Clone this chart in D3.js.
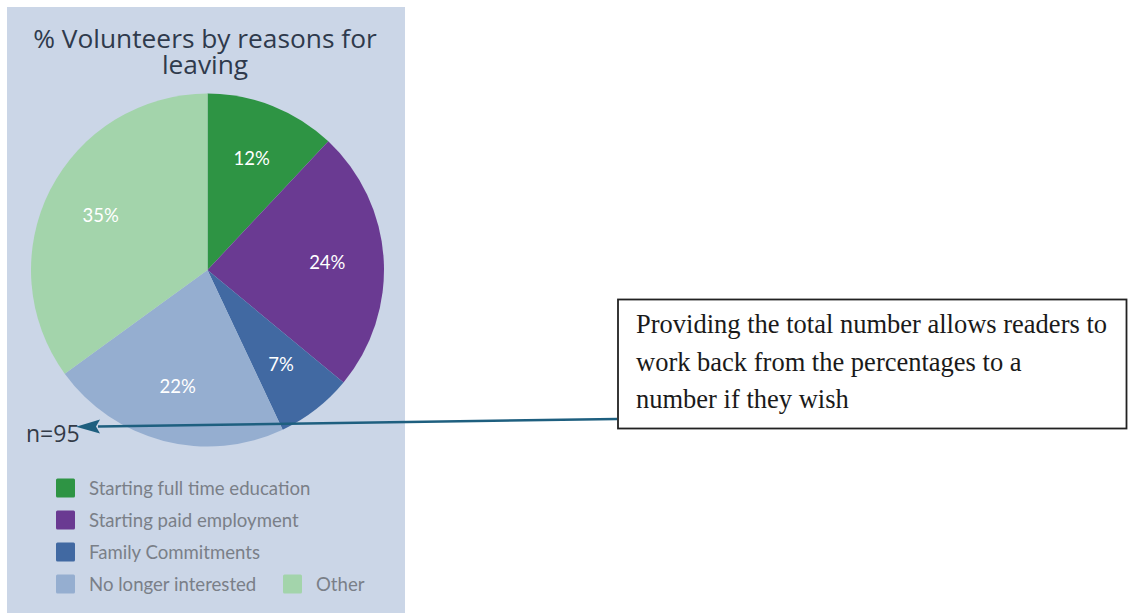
<!DOCTYPE html>
<html><head><meta charset="utf-8">
<script src="https://cdn.jsdelivr.net/npm/d3@7"></script>
<style>body{margin:0;background:#fff}svg{display:block}</style>
</head><body>
<svg id="c" width="1128" height="614"></svg>
<script>
const categories = ["Starting full time education","Starting paid employment","Family Commitments","No longer interested","Other"];
const values = [12, 24, 7, 22, 35];
const colors = ["#2e9444","#6a3a92","#4169a2","#95aed0","#a3d4ab"];
const titleLines = ["% Volunteers by reasons for","leaving"];
const nLabel = "n=95";
const noteLines = ["Providing the total number allows readers to","work back from the percentages to a","number if they wish"];

const svg = d3.select("#c");
svg.append("rect").attr("x",7).attr("y",7).attr("width",398).attr("height",606).attr("fill","#cbd6e7");

const title = svg.append("text").attr("text-anchor","middle")
  .attr("font-family","Open Sans").attr("font-size",26.3).attr("fill","#2f3a4c");
title.selectAll("tspan").data(titleLines).join("tspan")
  .attr("x",205).attr("y",(d,i)=>48+i*26).text(d=>d);

const cx=207.5, cy=270, r=176.5;
const pie = d3.pie().sort(null).value(d=>d)(values);
const arc = d3.arc().innerRadius(0).outerRadius(r);
const g = svg.append("g").attr("transform",`translate(${cx},${cy})`);
g.selectAll("path").data(pie).join("path").attr("d",arc).attr("fill",(d,i)=>colors[i]);
const labelArc = d3.arc().innerRadius(r*0.68).outerRadius(r*0.68);
g.selectAll("text").data(pie).join("text")
  .attr("transform",d=>`translate(${labelArc.centroid(d)})`)
  .attr("text-anchor","middle").attr("dy","0.35em")
  .attr("font-family","Lato").attr("font-size",18.5).attr("fill","#fff")
  .text(d=>d.data+"%");

svg.append("text").attr("x",26).attr("y",442).attr("font-family","Open Sans").attr("font-size",23).attr("fill","#333b47").text(nLabel);

// legend
const legPos = [[56,488],[56,520],[56,552],[56,584],[283,584]];
const lg = svg.append("g").selectAll("g").data(categories).join("g")
  .attr("transform",(d,i)=>`translate(${legPos[i][0]},${legPos[i][1]})`);
lg.append("rect").attr("x",0).attr("y",-9.5).attr("width",19).attr("height",19).attr("rx",1.5).attr("fill",(d,i)=>colors[i]);
lg.append("text").attr("x",33).attr("y",0).attr("dy","0.35em")
  .attr("font-family","Lato").attr("font-size",18.6).attr("fill","#7a7f88").text(d=>d);

// arrow
svg.append("line").attr("x1",617).attr("y1",419).attr("x2",98).attr("y2",426.5)
  .attr("stroke","#1e5f7f").attr("stroke-width",2.5);
svg.append("path").attr("d","M76,426.8 L100,419.5 L96,426.5 L100,433.5 z").attr("fill","#1e5f7f");

// note box
svg.append("rect").attr("x",618).attr("y",299.5).attr("width",508.5).attr("height",129).attr("fill","#fff")
  .attr("stroke","#222").attr("stroke-width",1.8);
svg.append("g").selectAll("text").data(noteLines).join("text")
  .attr("x",636).attr("y",(d,i)=>333+i*37.5)
  .attr("font-family","Liberation Serif").attr("font-size",26.5).attr("fill","#1a1a1a").text(d=>d);
</script>
</body></html>
